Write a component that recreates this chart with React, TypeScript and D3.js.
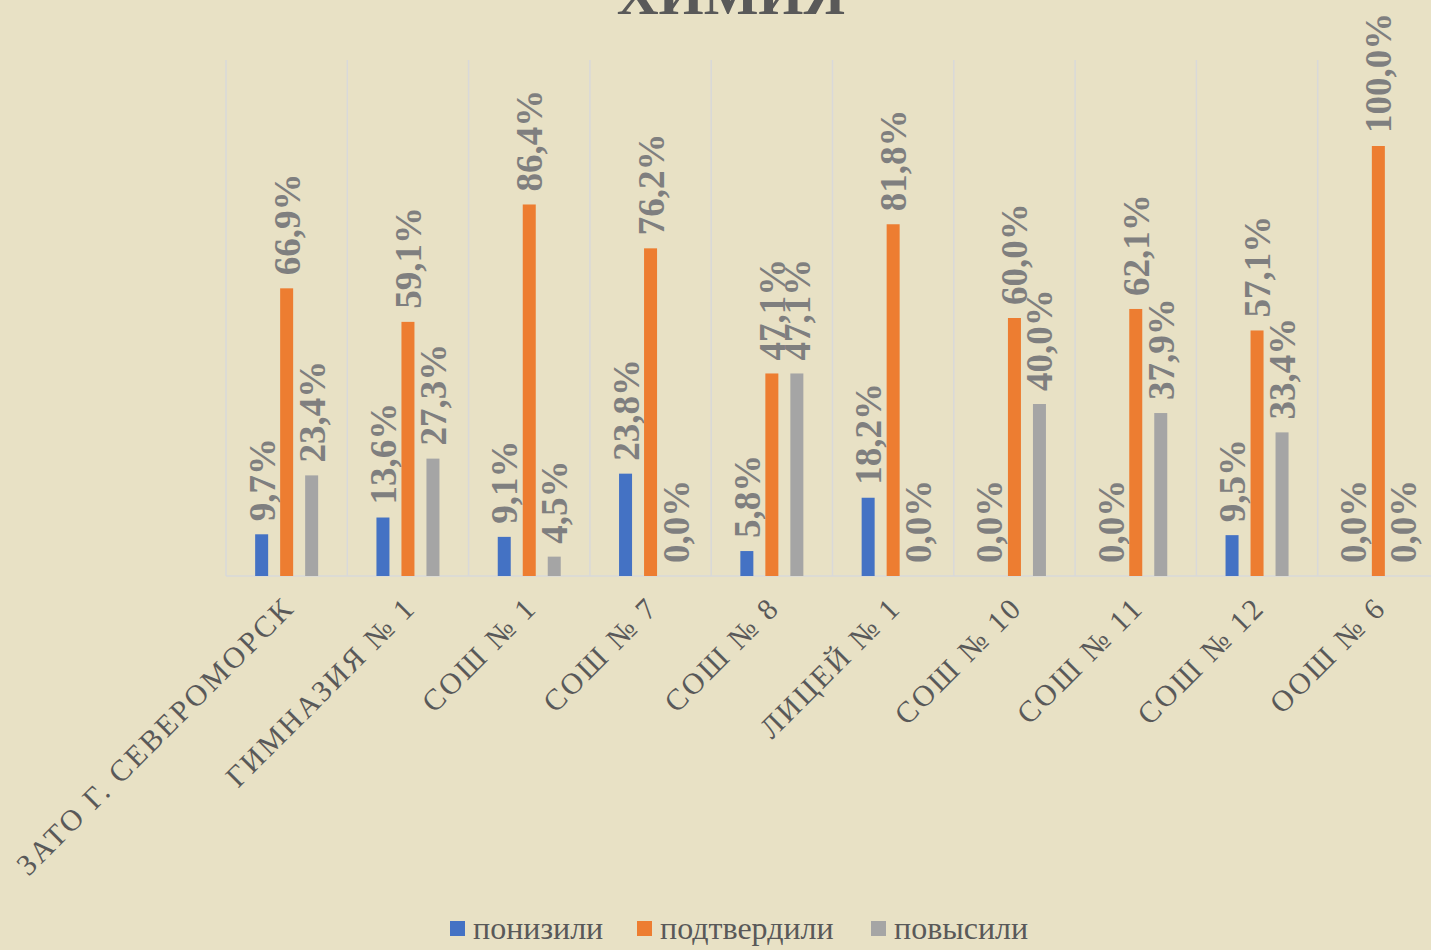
import * as d3 from "d3";

const categories = [
  "ЗАТО Г. СЕВЕРОМОРСК",
  "ГИМНАЗИЯ № 1",
  "СОШ № 1",
  "СОШ № 7",
  "СОШ № 8",
  "ЛИЦЕЙ № 1",
  "СОШ № 10",
  "СОШ № 11",
  "СОШ № 12",
  "ООШ № 6",
];
const lowered = [9.7, 13.6, 9.1, 23.8, 5.8, 18.2, 0, 0, 9.5, 0];
const confirmed = [66.9, 59.1, 86.4, 76.2, 47.1, 81.8, 60.0, 62.1, 57.1, 100];
const raised = [23.4, 27.3, 4.5, 0, 47.1, 0, 40.0, 37.9, 33.4, 0];
const seriesNames = ["понизили", "подтвердили", "повысили"];
const seriesColors = ["#4472C4", "#ED7D31", "#A5A5A5"];

const App: React.FC = () => {
  const width = 1431;
  const height = 950;
  const plotLeft = 226;
  const plotRight = 1439;
  const plotTop = 60;
  const baseY = 576;
  const series = [lowered, confirmed, raised];

  const x = d3.scaleBand<string>().domain(categories).range([plotLeft, plotRight]);
  const y = d3.scaleLinear([0, 100], [baseY, 146]);
  const offsets = [-25, 0, 25];
  const barW = 13;
  const fmt = (v: number) => v.toFixed(1).replace(".", ",") + "%";
  const serif = "'Liberation Serif', 'Times New Roman', serif";

  const legendX = [450, 637, 871];

  return (
    <svg width={width} height={height} style={{ position: "absolute", left: 0, top: 0 }} fontFamily={serif}>
      <rect width={width} height={height} fill="#E8E1C5" />
      <text x={731} y={14} textAnchor="middle" fontSize={58} fontWeight="bold" fill="#595959">ХИМИЯ</text>
      <g stroke="#D9D9D9" strokeWidth={1.5}>
        {categories.map((c) => (
          <line key={c} x1={x(c)} x2={x(c)} y1={plotTop} y2={baseY} />
        ))}
        <line x1={plotLeft} x2={plotRight} y1={baseY} y2={baseY} />
      </g>
      {series.map((vals, si) => (
        <g key={si}>
          {vals.map((v, i) => {
            const cx = (x(categories[i]) ?? 0) + x.bandwidth() / 2 + offsets[si];
            return (
              <g key={i}>
                <rect x={cx - barW / 2} y={y(v)} width={barW} height={baseY - y(v)} fill={seriesColors[si]} />
                <text
                  transform={`translate(${cx},${y(v) - 13}) rotate(-90)`}
                  dy="0.35em"
                  fontSize={37}
                  fontWeight="bold"
                  fill="#7F7F7F"
                >
                  {fmt(v)}
                </text>
              </g>
            );
          })}
        </g>
      ))}
      {categories.map((c) => {
        const cx = (x(c) ?? 0) + x.bandwidth() / 2;
        return (
          <text
            key={c}
            transform={`translate(${cx + 2},${baseY + 26}) rotate(-45)`}
            textAnchor="end"
            dy="0.35em"
            fontSize={30}
            letterSpacing={2.5}
            fill="#595959"
          >
            {c}
          </text>
        );
      })}
      {seriesNames.map((n, i) => (
        <g key={n}>
          <rect x={legendX[i]} y={921} width={15} height={15} fill={seriesColors[i]} />
          <text x={legendX[i] + 23} y={939} fontSize={32} fill="#595959">{n}</text>
        </g>
      ))}
    </svg>
  );
};

export default App;
